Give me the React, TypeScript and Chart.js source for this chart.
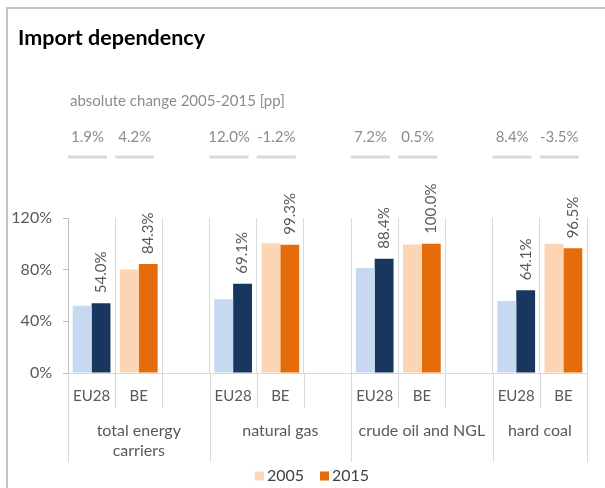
import React, { useEffect, useRef } from "react";
import { Chart, registerables } from "chart.js";

Chart.register(...registerables);

// ---- data ----
const slotLabels = ["EU28", "BE", "", "EU28", "BE", "", "EU28", "BE", "", "EU28", "BE"];
const groupLabels = [["total energy", "carriers"], ["natural gas"], ["crude oil and NGL"], ["hard coal"]];
const groupStarts = [0, 3, 6, 9];
const values2005 = [52.1, 80.1, null, 57.1, 100.5, null, 81.2, 99.5, null, 55.7, 100.0];
const values2015 = [54.0, 84.3, null, 69.1, 99.3, null, 88.4, 100.0, null, 64.1, 96.5];
const seriesNames = ["2005", "2015"];
const yMin = 0;
const yMax = 120;
const yStep = 40;
const titleText = "Import dependency";
const subtitleText = "absolute change 2005-2015 [pp]";

// ---- styles ----
const FONT = "Lato, 'Open Sans', sans-serif";
const EU_2005 = "#c6d9f1";
const EU_2015 = "#17375e";
const BE_2005 = "#fcd5b5";
const BE_2015 = "#e46c0a";
const TEXT = "#595959";
const GRID = "#d9d9d9";
const AXIS = "#bfbfbf";

const colorFor = (i: number, year: number) => {
  const eu = slotLabels[i] === "EU28";
  if (year === 0) return eu ? EU_2005 : BE_2005;
  return eu ? EU_2015 : BE_2015;
};

const decorPlugin = {
  id: "decor",
  afterDraw(chart: any) {
    const ctx = chart.ctx as CanvasRenderingContext2D;
    const x = chart.scales.x;
    const area = chart.chartArea;
    const n = slotLabels.length;
    const slotW = (area.right - area.left) / n;
    const boundary = (i: number) => x.getPixelForValue(0) - slotW / 2 + i * slotW;

    ctx.save();
    // frame
    ctx.strokeStyle = "#c4c4c4";
    ctx.lineWidth = 2;
    ctx.beginPath();
    ctx.moveTo(7, 490);
    ctx.lineTo(7, 8);
    ctx.lineTo(610, 8);
    ctx.stroke();

    // title
    ctx.fillStyle = "#000000";
    ctx.font = `bold 21.5px ${FONT}`;
    ctx.textAlign = "left";
    ctx.textBaseline = "middle";
    ctx.fillText(titleText, 18, 38);

    // subtitle
    ctx.fillStyle = "#8c8c8c";
    ctx.font = `15px ${FONT}`;
    ctx.fillText(subtitleText, 70, 101);

    // change values + underline bars
    for (let i = 0; i < n; i++) {
      const a = values2005[i];
      const b = values2015[i];
      if (a == null || b == null) continue;
      const left = boundary(i);
      const cx = left + 19.5;
      const ch = (Math.round((b - a) * 10) / 10).toFixed(1) + "%";
      ctx.fillStyle = "#8c8c8c";
      ctx.font = `15px ${FONT}`;
      ctx.textAlign = "center";
      ctx.fillText(ch, cx, 137);
      ctx.strokeStyle = GRID;
      ctx.lineWidth = 3;
      ctx.beginPath();
      ctx.moveTo(left, 157);
      ctx.lineTo(left + 39, 157);
      ctx.stroke();
    }

    // data labels (2015)
    const meta = chart.getDatasetMeta(1);
    ctx.fillStyle = TEXT;
    ctx.font = `15px ${FONT}`;
    meta.data.forEach((bar: any, i: number) => {
      const v = values2015[i];
      if (v == null) return;
      ctx.save();
      ctx.translate(bar.x, bar.y - 10);
      ctx.rotate(-Math.PI / 2);
      ctx.textAlign = "left";
      ctx.textBaseline = "middle";
      ctx.fillText(v.toFixed(1) + "%", 0, 0);
      ctx.restore();
    });

    // extended category lines below the axis
    ctx.strokeStyle = GRID;
    ctx.lineWidth = 1;
    const longIdx = new Set([...groupStarts, n]);
    for (let i = 0; i <= n; i++) {
      const bx = Math.round(boundary(i)) + 0.5;
      ctx.beginPath();
      ctx.moveTo(bx, area.bottom);
      ctx.lineTo(bx, longIdx.has(i) ? 462 : 408);
      ctx.stroke();
    }

    // group labels
    ctx.fillStyle = TEXT;
    ctx.font = `16px ${FONT}`;
    ctx.textAlign = "center";
    ctx.textBaseline = "middle";
    groupStarts.forEach((s, g) => {
      const e = g + 1 < groupStarts.length ? groupStarts[g + 1] : n;
      const cx = (boundary(s) + boundary(e)) / 2;
      groupLabels[g].forEach((line, k) => {
        ctx.fillText(line, cx, 431 + k * 20);
      });
    });

    // legend
    ctx.font = `16px ${FONT}`;
    const box = 9;
    const gapBox = 3;
    const gapItem = 16;
    const widths = seriesNames.map((s) => box + gapBox + ctx.measureText(s).width);
    const total = widths.reduce((p, c) => p + c, 0) + gapItem * (widths.length - 1);
    let lx = 312 - total / 2;
    const legendColors = [BE_2005, BE_2015];
    seriesNames.forEach((s, k) => {
      ctx.fillStyle = legendColors[k];
      ctx.fillRect(lx, 471.5, box, box);
      ctx.fillStyle = "#404040";
      ctx.textAlign = "left";
      ctx.fillText(s, lx + box + gapBox, 476);
      lx += widths[k] + gapItem;
    });
    ctx.restore();
  },
};

export default function App() {
  const ref = useRef<HTMLCanvasElement | null>(null);

  useEffect(() => {
    document.body.style.margin = "0";
    Chart.defaults.font.family = FONT;
    const canvas = ref.current!;
    const chart = new Chart(canvas, {
      type: "bar",
      data: {
        labels: slotLabels,
        datasets: [
          {
            label: seriesNames[0],
            data: values2005,
            backgroundColor: (c: any) => colorFor(c.dataIndex, 0),
            borderWidth: 0,
          },
          {
            label: seriesNames[1],
            data: values2015,
            backgroundColor: (c: any) => colorFor(c.dataIndex, 1),
            borderWidth: 0,
          },
        ],
      },
      options: {
        responsive: false,
        animation: false,
        devicePixelRatio: 1,
        layout: { padding: { left: 0, top: 218, right: 18, bottom: 75 } },
        datasets: { bar: { categoryPercentage: 0.8, barPercentage: 1.0 } },
        plugins: {
          legend: { display: false },
          tooltip: { enabled: false },
          title: { display: false },
        },
        scales: {
          x: {
            offset: true,
            grid: { offset: true, color: GRID, drawTicks: false, lineWidth: 1 },
            border: { color: GRID },
            ticks: { color: TEXT, font: { size: 15, family: FONT }, padding: 14, maxRotation: 0, autoSkip: false },
            afterFit: (s: any) => {
              s.height = 40;
            },
          },
          y: {
            min: yMin,
            max: yMax,
            ticks: {
              stepSize: yStep,
              color: TEXT,
              font: { size: 16, family: FONT },
              padding: 11,
              callback: (v: any) => v + "%",
            },
            grid: { drawOnChartArea: false, drawTicks: true, tickLength: 5, color: AXIS },
            border: { color: AXIS },
            afterFit: (s: any) => {
              s.width = 68;
            },
          },
        },
      },
      plugins: [decorPlugin],
    });
    return () => chart.destroy();
  }, []);

  return (
    <div style={{ position: "relative", width: 605, height: 488, background: "#ffffff" }}>
      <canvas ref={ref} width={605} height={488} />
    </div>
  );
}
